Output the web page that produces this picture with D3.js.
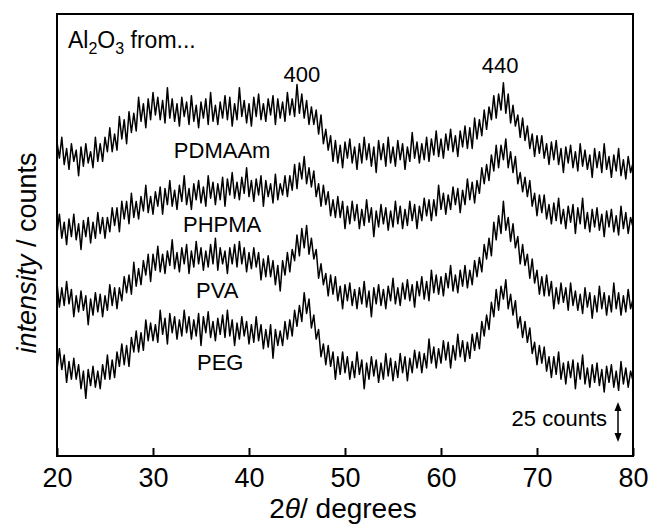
<!DOCTYPE html>
<html>
<head>
<meta charset="utf-8">
<script src="https://cdn.jsdelivr.net/npm/d3@7/dist/d3.min.js"></script>
<style>
body { margin: 0; background: #fff; }
svg text { font-family: Arial, "Liberation Sans", sans-serif; fill: #000; }
</style>
</head>
<body>
<div id="chart"></div>
<script>
// scans start at 20 deg, 0.25 deg per point, counts (offset stacked as in the figure)
var startDeg = 20, stepDeg = 0.25;

var pdmaam = [
  196, 186, 199, 182, 192, 179, 195, 184, 191, 175, 193, 181, 195, 183, 190, 180,
  199, 184, 195, 184, 199, 190, 205, 190, 201, 191, 212, 198, 210, 195, 215, 202,
  214, 203, 224, 209, 220, 205, 223, 210, 227, 213, 224, 210, 222, 208, 230, 211,
  223, 209, 220, 206, 224, 212, 221, 207, 225, 209, 219, 205, 221, 211, 223, 207,
  227, 209, 219, 207, 221, 211, 225, 210, 224, 206, 220, 210, 230, 212, 222, 208,
  220, 206, 224, 212, 226, 210, 220, 209, 223, 213, 225, 207, 223, 211, 221, 209,
  227, 213, 223, 212, 232, 214, 226, 211, 222, 207, 218, 207, 216, 201, 213, 195,
  204, 191, 200, 184, 197, 183, 194, 180, 196, 186, 198, 183, 193, 179, 195, 183,
  199, 185, 195, 181, 193, 177, 197, 185, 195, 181, 199, 183, 193, 181, 197, 185,
  195, 179, 193, 184, 202, 186, 196, 183, 195, 185, 199, 184, 198, 188, 203, 187,
  198, 186, 201, 191, 204, 190, 200, 187, 203, 193, 206, 192, 205, 192, 211, 198,
  210, 200, 216, 204, 218, 210, 225, 211, 226, 216, 233, 214, 226, 208, 219, 206,
  213, 199, 211, 197, 206, 192, 201, 187, 200, 189, 200, 186, 195, 182, 196, 185,
  197, 182, 192, 177, 193, 183, 194, 180, 190, 178, 195, 181, 191, 179, 188, 174,
  192, 180, 190, 177, 195, 179, 187, 174, 188, 178, 192, 175, 185, 173, 187, 177,
  183
];
var phpma = [
  139, 151, 136, 146, 132, 148, 137, 151, 135, 145, 129, 147, 137, 149, 133, 146,
  136, 152, 139, 149, 136, 149, 140, 155, 144, 155, 140, 159, 148, 159, 145, 164,
  149, 159, 148, 162, 153, 169, 152, 162, 151, 165, 156, 168, 151, 167, 157, 172,
  156, 166, 154, 169, 159, 175, 157, 167, 154, 170, 160, 172, 158, 168, 156, 175,
  161, 171, 157, 170, 160, 174, 156, 173, 163, 177, 161, 171, 160, 174, 164, 180,
  162, 172, 159, 173, 163, 175, 156, 172, 162, 170, 158, 176, 160, 170, 163, 175,
  162, 175, 166, 182, 167, 183, 173, 187, 170, 180, 168, 178, 162, 170, 156, 169,
  157, 165, 150, 160, 149, 162, 149, 159, 142, 156, 145, 159, 147, 157, 142, 154,
  144, 160, 146, 155, 137, 153, 143, 157, 145, 155, 141, 153, 143, 159, 145, 156,
  142, 154, 144, 159, 147, 157, 142, 156, 147, 161, 150, 160, 147, 160, 150, 169,
  154, 164, 151, 163, 154, 168, 157, 167, 152, 166, 157, 173, 160, 171, 158, 172,
  164, 180, 170, 182, 172, 188, 178, 194, 180, 194, 185, 198, 180, 190, 177, 187,
  170, 177, 165, 174, 162, 172, 156, 164, 150, 163, 152, 163, 148, 157, 145, 158,
  147, 161, 145, 154, 142, 156, 146, 157, 139, 155, 145, 161, 142, 152, 140, 154,
  143, 155, 141, 151, 137, 153, 143, 154, 140, 150, 138, 156, 142, 152, 139, 149,
  143
];
var pva = [
  108, 93, 105, 94, 109, 95, 104, 87, 100, 90, 103, 91, 100, 82, 98, 88,
  102, 90, 101, 87, 100, 91, 107, 94, 105, 92, 105, 97, 112, 102, 113, 101,
  121, 106, 117, 107, 122, 113, 126, 109, 126, 116, 131, 115, 126, 114, 128, 119,
  135, 117, 127, 115, 130, 120, 132, 114, 128, 118, 134, 120, 130, 116, 128, 118,
  132, 120, 136, 116, 130, 120, 128, 114, 130, 120, 132, 118, 134, 120, 130, 115,
  127, 117, 130, 118, 127, 110, 123, 112, 125, 112, 122, 107, 119, 103, 122, 113,
  127, 115, 129, 122, 138, 125, 142, 130, 144, 126, 136, 123, 129, 111, 120, 107,
  114, 100, 113, 101, 112, 97, 106, 92, 107, 97, 108, 94, 104, 92, 105, 95,
  109, 93, 103, 87, 105, 95, 107, 94, 104, 92, 106, 97, 111, 95, 105, 94,
  108, 98, 110, 97, 107, 93, 109, 100, 112, 98, 109, 97, 116, 102, 113, 101,
  112, 100, 114, 105, 119, 103, 113, 102, 116, 106, 119, 105, 116, 107, 122, 112,
  124, 115, 132, 123, 136, 125, 146, 135, 150, 139, 159, 141, 149, 134, 145, 130,
  137, 120, 132, 119, 126, 111, 123, 108, 116, 101, 112, 100, 113, 100, 109, 92,
  105, 95, 108, 96, 105, 91, 108, 94, 103, 91, 101, 89, 105, 93, 102, 86,
  100, 90, 106, 92, 102, 88, 100, 90, 108, 92, 102, 88, 100, 90, 104, 92,
  98
];
var peg = [
  54, 67, 54, 63, 46, 59, 48, 61, 48, 57, 42, 53, 36, 54, 44, 56,
  43, 53, 42, 57, 48, 63, 48, 60, 49, 65, 56, 70, 57, 69, 56, 74,
  65, 78, 65, 77, 66, 85, 72, 83, 72, 82, 71, 91, 76, 86, 70, 89,
  77, 87, 73, 85, 75, 91, 77, 87, 73, 85, 75, 89, 69, 87, 77, 90,
  74, 84, 72, 86, 76, 88, 74, 91, 75, 85, 69, 83, 73, 87, 75, 84,
  70, 82, 71, 87, 72, 82, 67, 79, 68, 82, 61, 79, 69, 78, 69, 84,
  73, 85, 75, 91, 81, 94, 84, 102, 89, 98, 80, 88, 73, 79, 62, 70,
  57, 69, 56, 65, 48, 62, 51, 65, 52, 62, 48, 59, 49, 65, 51, 60,
  42, 58, 48, 62, 50, 60, 46, 58, 48, 64, 50, 61, 47, 59, 49, 64,
  52, 62, 47, 61, 52, 66, 55, 65, 52, 64, 55, 73, 58, 68, 55, 67,
  58, 72, 60, 71, 55, 69, 60, 76, 62, 72, 59, 71, 61, 76, 66, 77,
  67, 84, 75, 88, 79, 96, 87, 104, 91, 106, 98, 110, 92, 101, 88, 97,
  80, 87, 74, 84, 71, 80, 64, 71, 57, 69, 58, 68, 53, 62, 49, 62,
  51, 65, 48, 58, 45, 59, 49, 60, 42, 58, 48, 63, 45, 55, 43, 57,
  46, 58, 44, 54, 40, 56, 46, 57, 43, 53, 41, 59, 45, 55, 43, 53,
  47
];

var seriesNames = ['PDMAAm', 'PHPMA', 'PVA', 'PEG'];
var reflections = ['400', '440'];
var xTicks = [20, 30, 40, 50, 60, 70, 80];
var scaleBarCounts = 25;

var W = 649, H = 527;
var svg = d3.select('#chart').append('svg').attr('width', W).attr('height', H);

var x = d3.scaleLinear().domain([20, 80]).range([57, 633]);
var y = d3.scaleLinear().domain([0, 276]).range([456, 14]);

var line = d3.line()
  .x(function (d, i) { return x(startDeg + i * stepDeg); })
  .y(function (d) { return y(d); });

var traces = svg.append('g');
traces.selectAll('path')
  .data([pdmaam, phpma, pva, peg]).enter().append('path')
  .attr('d', line)
  .attr('fill', 'none')
  .attr('stroke', '#000')
  .attr('stroke-width', 1.5)
  .attr('stroke-linejoin', 'round');

// x axis with inward ticks
var xAxis = d3.axisBottom(x).tickValues(xTicks).tickSizeInner(-8).tickSizeOuter(0).tickPadding(12);
var gx = svg.append('g').attr('transform', 'translate(0,456)').call(xAxis);
gx.select('.domain').remove();
gx.selectAll('line').attr('stroke', '#000').attr('stroke-width', 2);
gx.selectAll('text').style('font-size', '27px').attr('font-family', 'Arial, "Liberation Sans", sans-serif');

// frame
svg.append('rect')
  .attr('x', 57).attr('y', 14).attr('width', 576).attr('height', 442)
  .attr('fill', 'none').attr('stroke', '#000').attr('stroke-width', 2);

// series labels
var labelPos = [[37.2, 186], [37.2, 140], [36.7, 98.7], [37.0, 53.7]];
svg.append('g').selectAll('text')
  .data(seriesNames).enter().append('text')
  .attr('x', function (d, i) { return x(labelPos[i][0]); })
  .attr('y', function (d, i) { return y(labelPos[i][1]); })
  .attr('text-anchor', 'middle')
  .style('font-size', '22px')
  .text(function (d) { return d; });

var reflPos = [[45.5, 233.5], [66.15, 239.2]];
svg.append('g').selectAll('text')
  .data(reflections).enter().append('text')
  .attr('x', function (d, i) { return x(reflPos[i][0]); })
  .attr('y', function (d, i) { return y(reflPos[i][1]); })
  .attr('text-anchor', 'middle')
  .style('font-size', '22px')
  .text(function (d) { return d; });

// Al2O3 from...
var t = svg.append('text').attr('x', 68).attr('y', 48).style('font-size', '23px');
t.append('tspan').text('Al');
t.append('tspan').attr('dy', 6).style('font-size', '16px').text('2');
t.append('tspan').attr('dy', -6).text('O');
t.append('tspan').attr('dy', 6).style('font-size', '16px').text('3');
t.append('tspan').attr('dy', -6).text(' from...');

// scale bar: 25 counts
var bx = 618, b0 = 8.75;
var yTop = y(b0 + scaleBarCounts), yBot = y(b0);
svg.append('line')
  .attr('x1', bx).attr('x2', bx).attr('y1', yTop + 6).attr('y2', yBot - 6)
  .attr('stroke', '#000').attr('stroke-width', 1.5);
svg.append('path')
  .attr('d', 'M' + bx + ',' + yTop + 'l-3.5,9h7z')
  .attr('fill', '#000');
svg.append('path')
  .attr('d', 'M' + bx + ',' + yBot + 'l-3.5,-9h7z')
  .attr('fill', '#000');
svg.append('text')
  .attr('x', 607).attr('y', 426)
  .attr('text-anchor', 'end')
  .style('font-size', '22px')
  .text(scaleBarCounts + ' counts');

// axis titles
var xt = svg.append('text').attr('x', 343).attr('y', 518).attr('text-anchor', 'middle').style('font-size', '28px');
xt.append('tspan').text('2');
xt.append('tspan').style('font-style', 'italic').text('θ');
xt.append('tspan').text('/ degrees');

var yt = svg.append('text').attr('transform', 'translate(36,253) rotate(-90)').attr('text-anchor', 'middle').style('font-size', '27px');
yt.append('tspan').style('font-style', 'italic').text('intensity');
yt.append('tspan').text(' / counts');
</script>
</body>
</html>
